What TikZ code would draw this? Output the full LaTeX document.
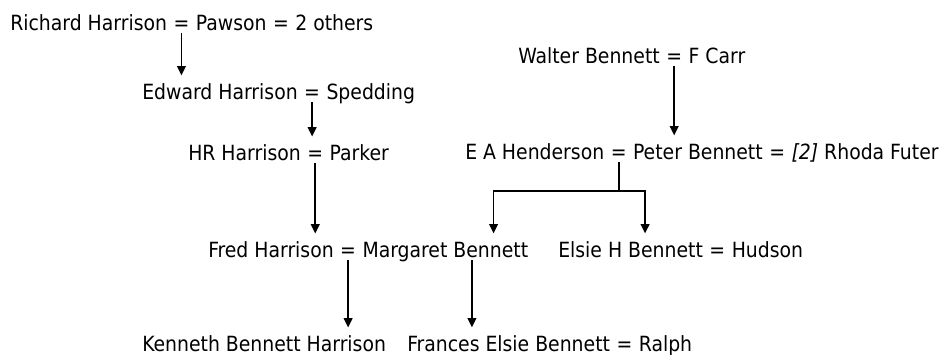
\documentclass[tikz,border=0pt]{standalone}
\usepackage{fontspec}
\setmainfont{DejaVu Sans Condensed}
\usetikzlibrary{calc,positioning,arrows.meta}

\begin{document}
\begin{tikzpicture}[x=0.75pt,y=-0.75pt,node distance=4.5pt,
  person/.style={inner sep=0pt,anchor=base west,text height=11.5pt,text depth=2pt,font=\fontsize{15.7}{18}\selectfont},
  child/.style={-{Triangle[width=6.5pt,length=7pt]},line width=1.4pt,shorten >=6pt}]
\useasboundingbox (0,0) rectangle (943,354);

\node[person] (richard) at (10,30) {Richard Harrison};
\node[person,base right=of richard] (rEqA) {=};
\node[person,base right=of rEqA] (pawson) {Pawson};
\node[person,base right=of pawson] (rEqB) {=};
\node[person,base right=of rEqB] (others) {2 others};

\node[person] (edward) at (142,99) {Edward Harrison};
\node[person,base right=of edward] (eEq) {=};
\node[person,base right=of eEq] (spedding) {Spedding};

\node[person] (hr) at (188,160) {HR Harrison};
\node[person,base right=of hr] (hEq) {=};
\node[person,base right=of hEq] (parker) {Parker};

\node[person] (walter) at (518,63) {Walter Bennett};
\node[person,base right=of walter] (wEq) {=};
\node[person,base right=of wEq] (carr) {F Carr};

\node[person] (henderson) at (465,159) {E A Henderson};
\node[person,base right=of henderson] (pEqA) {=};
\node[person,base right=of pEqA] (peter) {Peter Bennett};
\node[person,base right=of peter] (pEqB) {=};
\node[person,base right=of pEqB] (rhoda) {\textit{[2]} Rhoda Futer};

\node[person] (fred) at (208,257) {Fred Harrison};
\node[person,base right=of fred] (fEq) {=};
\node[person,base right=of fEq] (margaret) {Margaret Bennett};

\node[person] (elsie) at (558,257) {Elsie H Bennett};
\node[person,base right=of elsie] (elEq) {=};
\node[person,base right=of elEq] (hudson) {Hudson};

\node[person] (kenneth) at (142,351) {Kenneth Bennett Harrison};
\node[person] (frances) at (407,351) {Frances Elsie Bennett};
\node[person,base right=of frances] (frEq) {=};
\node[person,base right=of frEq] (ralph) {Ralph};


\draw[child] (rEqA.south) -- (rEqA.south |- edward.north);
\draw[child] (eEq.south) -- (eEq.south |- hEq.north);
\draw[child] (hEq.south) -- (hEq.south |- fred.north);
\draw[child] (wEq.south) -- (wEq.south |- peter.north);
\draw[child] (fEq.south) -- (fEq.south |- kenneth.north);

\coordinate (mDown) at ($(margaret.south west)!.66!(margaret.south east)$);
\draw[child] (mDown) -- (mDown |- frances.north);

\coordinate (fork) at ($(pEqA.south)+(0,29)$);
\coordinate (mTop) at ($(margaret.north west)!.79!(margaret.north east)$);
\coordinate (eTop) at ($(elsie.north west)!.6!(elsie.north east)$);
\draw[line width=1.4pt] (pEqA.south) -- (fork);
\draw[child] (fork) -| (mTop);
\draw[child] (fork) -| (eTop);

\end{tikzpicture}
\end{document}
